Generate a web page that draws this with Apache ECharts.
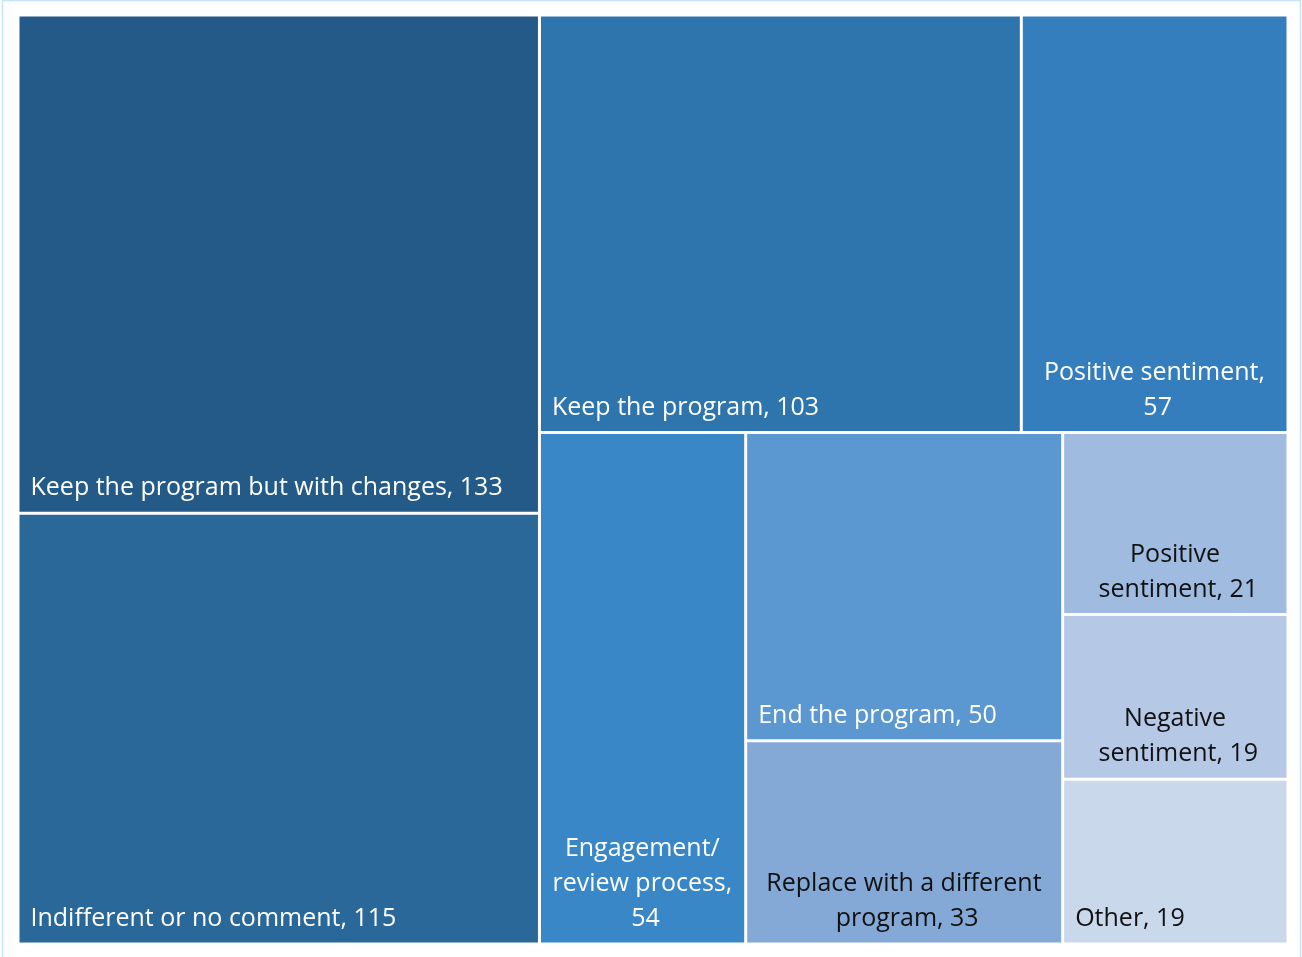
<!DOCTYPE html>
<html>
<head>
<meta charset="utf-8">
<script src="https://cdn.jsdelivr.net/npm/echarts@6/dist/echarts.min.js"></script>
<style>
html, body { margin: 0; padding: 0; background: #ffffff; }
#chart { width: 1302px; height: 957px; }
</style>
</head>
<body>
<div id="chart"></div>
<script>
// ---- data ----
const categories = [
  "Keep the program but with changes",
  "Indifferent or no comment",
  "Keep the program",
  "Positive sentiment",
  "Engagement/ review process",
  "End the program",
  "Replace with a different program",
  "Positive sentiment",
  "Negative sentiment",
  "Other"
];
const values = [133, 115, 103, 57, 54, 50, 33, 21, 19, 19];
// nesting of the leaves (by index) that reproduces the reference arrangement
const grouping = [[0, 1], [[2, 3], [4, [[5, 6], [7, 8, 9]]]]];

// ---- styles ----
const cellColors = ["#245A87", "#296899", "#2E74AD", "#357EBE", "#3A87C7",
                    "#5B97D0", "#84A9D6", "#9FBBE0", "#B5C9E6", "#CAD8EC"];
const labelColors = ["#ffffff", "#ffffff", "#ffffff", "#ffffff", "#ffffff",
                     "#ffffff", "#111111", "#111111", "#111111", "#111111"];
const centeredLabel = [false, false, false, true, true, false, true, true, true, false];

function build(node) {
  if (typeof node === 'number') {
    return {
      name: categories[node],
      value: values[node],
      itemStyle: { color: cellColors[node], borderWidth: 1.5, borderColor: '#ffffff', gapWidth: 0 },
      label: {
        color: labelColors[node],
        position: centeredLabel[node] ? 'insideBottom' : 'insideBottomLeft',
        align: centeredLabel[node] ? 'center' : 'left'
      }
    };
  }
  return {
    name: '',
    children: node.map(build),
    itemStyle: { borderWidth: 0, gapWidth: 0, borderColor: '#ffffff' }
  };
}

const chart = echarts.init(document.getElementById('chart'), null, { renderer: 'canvas' });
chart.setOption({
  animation: false,
  backgroundColor: '#ffffff',
  graphic: [{
    type: 'rect',
    silent: true,
    z: -10,
    shape: { x: 2.5, y: 0.5, width: 1298, height: 960 },
    style: { fill: 'none', stroke: '#C6E4F8', lineWidth: 1.5 }
  }],
  series: [{
    type: 'treemap',
    left: 18, top: 15, right: 14, bottom: 13,
    sort: false,
    squareRatio: 1,
    roam: false,
    nodeClick: false,
    breadcrumb: { show: false },
    upperLabel: { show: false },
    itemStyle: { borderWidth: 0, gapWidth: 0, borderColor: '#ffffff' },
    label: {
      show: true,
      formatter: '{b}, {c}',
      fontFamily: 'Open Sans',
      fontSize: 25,
      lineHeight: 35,
      overflow: 'break',
      padding: [0, 5, 6, 11],
      distance: 0
    },
    emphasis: { disabled: true },
    data: grouping.map(build)
  }]
});
</script>
</body>
</html>
